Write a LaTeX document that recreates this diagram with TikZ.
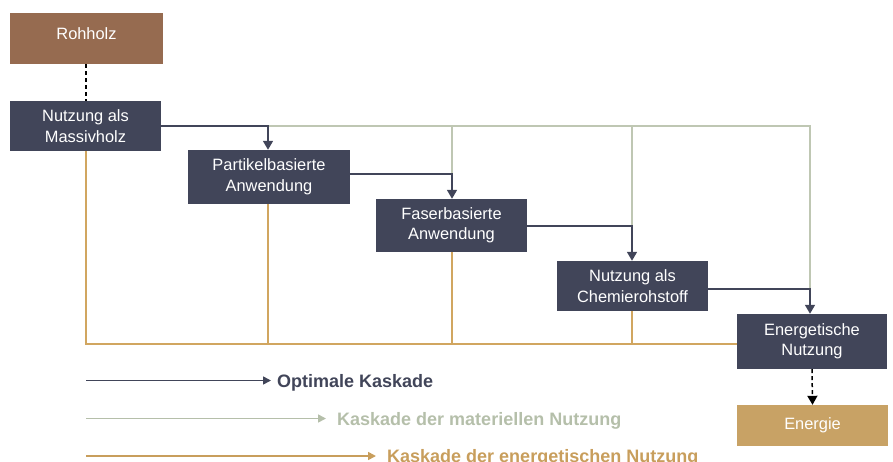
\documentclass[tikz,border=0pt]{standalone}
\usepackage{fontspec}
\setmainfont{Liberation Sans}
\usetikzlibrary{arrows.meta}
\definecolor{navy}{HTML}{414559}
\definecolor{wood}{HTML}{966B50}
\definecolor{sage}{HTML}{BFC7B3}
\definecolor{ochre}{HTML}{D1A660}
\definecolor{gold}{HTML}{C8A265}
\definecolor{sagetext}{HTML}{B5BFAA}
\definecolor{ochretext}{HTML}{C89E5C}
\tikzset{
  x=1pt, y=-1pt,
  stage/.style={draw=none, fill=navy, text=white, align=center,
    font=\fontsize{16.4}{20.5}\selectfont, inner sep=0pt},
  optline/.style={draw=navy, line width=1.6pt},
  matline/.style={draw=sage, line width=1.6pt},
  enline/.style={draw=ochre, line width=1.6pt},
  tip/.style={-{Triangle[length=9pt,width=10pt]}},
  dashlink/.style={draw=black, line width=1.5pt, dash pattern=on 4pt off 3pt},
  legend/.style={anchor=base west, inner sep=0pt, font=\fontsize{18}{22}\selectfont\bfseries}
}
\begin{document}
\begin{tikzpicture}
\useasboundingbox (0,0) rectangle (893,461);

% stages
\node[stage, fill=wood, minimum width=153pt, minimum height=51pt] (roh) at (86.5,38.5) {\raisebox{10pt}{Rohholz}};
\node[stage, minimum width=151pt, minimum height=50pt] (mass) at (85.5,126) {Nutzung als\\Massivholz};
\node[stage, minimum width=162pt, minimum height=54pt] (part) at (269,177) {Partikelbasierte\\Anwendung};
\node[stage, minimum width=151pt, minimum height=53pt] (faser) at (451.5,225.5) {Faserbasierte\\Anwendung};
\node[stage, minimum width=151pt, minimum height=50pt] (chem) at (632.5,286) {Nutzung als\\Chemierohstoff};
\node[stage, minimum width=150pt, minimum height=55pt] (energ) at (812,341.5) {Energetische\\Nutzung};
\node[stage, fill=gold, minimum width=151pt, minimum height=41pt] (energie) at (812.5,425.5) {\raisebox{1.5pt}{Energie}};

% junction points of the cascade
\coordinate (j1) at (268,126);
\coordinate (j2) at (452,174);
\coordinate (j3) at (632,226);
\coordinate (j4) at (810,289);
\coordinate (base) at (86,344);

% material cascade
\draw[matline] (j1) -- (810,126) -- (j4);
\draw[matline] (452,126) -- (j2);
\draw[matline] (632,126) -- (j3);

% energetic cascade
\draw[enline] (mass.south -| base) -- (base) -- (energ.west |- base);
\draw[enline] (part.south -| j1) -- (j1 |- base);
\draw[enline] (faser.south -| j2) -- (j2 |- base);
\draw[enline] (chem.south -| j3) -- (j3 |- base);

% optimal cascade
\draw[optline, tip] (mass.east |- j1) -- (j1) -- (part.north -| j1);
\draw[optline, tip] (part.east |- j2) -- (j2) -- (faser.north -| j2);
\draw[optline, tip] (faser.east |- j3) -- (j3) -- (chem.north -| j3);
\draw[optline, tip] (chem.east |- j4) -- (j4) -- (energ.north -| j4);

% raw wood in, energy out
\draw[dashlink] (roh.south -| 86,0) -- (mass.north -| 86,0);
\draw[dashlink, tip] (energ.south) -- (energie.north);

% legend
\node[legend, text=navy] (lopt) at (277,387) {Optimale Kaskade};
\node[legend, text=sagetext] (lmat) at (337,425) {Kaskade der materiellen Nutzung};
\node[legend, text=ochretext] (len) at (387,462) {Kaskade der energetischen Nutzung};
\coordinate (s1) at (86,380.5);
\coordinate (s2) at (86,418.5);
\coordinate (s3) at (86,456);
\draw[optline, -{Triangle[length=8pt,width=8pt]}] (s1) -- (s1 -| 271,0);
\draw[draw=sagetext, line width=1.6pt, -{Triangle[length=8pt,width=8pt]}] (s2) -- (s2 -| 326,0);
\draw[draw=ochretext, line width=1.6pt, -{Triangle[length=8pt,width=8pt]}] (s3) -- (s3 -| 376,0);
\end{tikzpicture}
\end{document}
